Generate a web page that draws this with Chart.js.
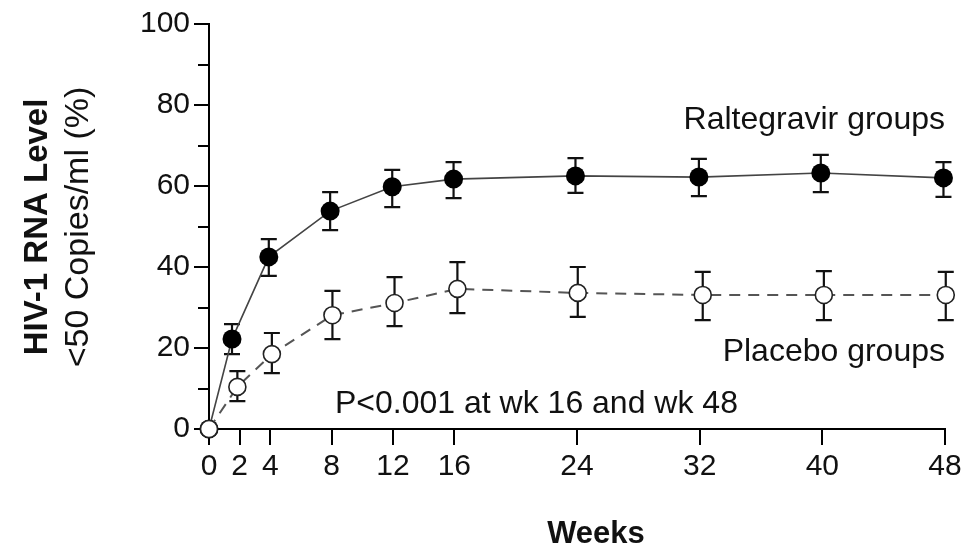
<!DOCTYPE html>
<html><head><meta charset="utf-8">
<script src="https://cdn.jsdelivr.net/npm/chart.js@4.4.0/dist/chart.umd.min.js"></script>
<style>html,body{margin:0;padding:0;background:#fff}#wrap{width:966px;height:547px;position:relative}</style>
</head><body><div id="wrap"><canvas id="c" width="966" height="547"></canvas></div>
<script>
// ---- data ----
const weekTicks = [0, 2, 4, 8, 12, 16, 24, 32, 40, 48];
const raltWeeks = [0, 1.5, 3.9, 7.9, 11.95, 15.95, 23.9, 31.95, 39.9, 47.9];
const raltValues = [0, 22.2, 42.5, 53.8, 59.8, 61.7, 62.5, 62.2, 63.2, 62.0];
const raltUpper = [null, 25.9, 46.9, 58.5, 64.0, 65.9, 66.9, 66.7, 67.7, 65.9];
const raltLower = [null, 18.5, 37.8, 49.1, 54.8, 57.0, 58.3, 57.5, 58.5, 57.3];
const placeboWeeks = [0, 1.85, 4.1, 8.05, 12.1, 16.2, 24.05, 32.2, 40.1, 48.05];
const placeboValues = [0, 10.4, 18.5, 28.1, 31.1, 34.6, 33.6, 33.1, 33.1, 33.1];
const placeboUpper = [null, 14.3, 23.7, 34.1, 37.5, 41.2, 40.0, 38.8, 39.0, 38.8];
const placeboLower = [null, 6.9, 13.8, 22.2, 25.4, 28.6, 27.7, 26.9, 26.9, 26.9];
const yTickValues = [0, 20, 40, 60, 80, 100];
const yMinorTicks = [10, 30, 50, 70, 90];

const FONT = "'Liberation Sans', Arial, sans-serif";
const TXT = '#111';

const toPts = (xs, ys) => xs.map((x, i) => ({x: x, y: ys[i]}));

const errorBars = {
  id: 'errorBars',
  beforeDatasetsDraw(chart) {
    const ctx = chart.ctx, xs = chart.scales.x, ys = chart.scales.y;
    chart.data.datasets.forEach(ds => {
      ctx.save();
      ctx.strokeStyle = '#111';
      ctx.lineWidth = 2.2;
      ds.data.forEach((p, i) => {
        const up = ds.errUpper[i], lo = ds.errLower[i];
        if (up == null || lo == null) return;
        const px = xs.getPixelForValue(p.x);
        const pu = ys.getPixelForValue(up), pl = ys.getPixelForValue(lo);
        ctx.beginPath();
        ctx.moveTo(px, pu); ctx.lineTo(px, pl);
        ctx.moveTo(px - 8, pu); ctx.lineTo(px + 8, pu);
        ctx.moveTo(px - 8, pl); ctx.lineTo(px + 8, pl);
        ctx.stroke();
      });
      ctx.restore();
    });
  }
};

const labelsPlugin = {
  id: 'labelsPlugin',
  afterDraw(chart) {
    const ctx = chart.ctx, xs = chart.scales.x, ys = chart.scales.y;
    ctx.save();
    // minor y ticks (shorter)
    ctx.strokeStyle = '#000';
    ctx.lineWidth = 2;
    ctx.beginPath();
    yMinorTicks.forEach(v => {
      const py = Math.round(ys.getPixelForValue(v));
      ctx.moveTo(xs.left - 11, py); ctx.lineTo(xs.left, py);
    });
    ctx.stroke();
    ctx.fillStyle = TXT;
    // annotations
    ctx.font = "32px " + FONT;
    ctx.textBaseline = 'alphabetic';
    ctx.textAlign = 'right';
    ctx.fillText('Raltegravir groups', xs.getPixelForValue(48), 129);
    ctx.fillText('Placebo groups', xs.getPixelForValue(48), 361);
    ctx.textAlign = 'left';
    ctx.fillText('P<0.001 at wk 16 and wk 48', 335, 413);
    // x title
    ctx.font = "bold 31px " + FONT;
    ctx.textAlign = 'center';
    ctx.fillText('Weeks', 596, 543);
    // y title
    ctx.translate(0, 227);
    ctx.rotate(-Math.PI / 2);
    ctx.font = "bold 33px " + FONT;
    ctx.fillText('HIV-1 RNA Level', 0, 47);
    ctx.font = "34px " + FONT;
    ctx.fillText('<50 Copies/ml (%)', 0, 88);
    ctx.restore();
  }
};

new Chart(document.getElementById('c'), {
  type: 'line',
  data: {
    datasets: [
      {
        label: 'Placebo groups',
        data: toPts(placeboWeeks, placeboValues),
        errUpper: placeboUpper, errLower: placeboLower,
        borderColor: '#555', borderWidth: 2, borderDash: [11, 8],
        pointRadius: 8.5, pointBackgroundColor: '#fff', pointBorderColor: '#222', pointBorderWidth: 1.6,
        tension: 0, clip: false
      },
      {
        label: 'Raltegravir groups',
        data: toPts(raltWeeks, raltValues),
        errUpper: raltUpper, errLower: raltLower,
        borderColor: '#444', borderWidth: 1.6,
        pointRadius: 9.5, pointBackgroundColor: '#000', pointBorderColor: '#000', pointBorderWidth: 0,
        tension: 0, clip: false
      }
    ]
  },
  options: {
    responsive: false, animation: false, devicePixelRatio: 1,
    layout: {padding: {left: 0, right: 21, top: 24, bottom: 0}},
    plugins: {legend: {display: false}, tooltip: {enabled: false}},
    scales: {
      x: {
        type: 'linear', min: 0, max: 48,
        afterBuildTicks: s => { s.ticks = weekTicks.map(v => ({value: v})); },
        afterFit: s => { s.height = 118; },
        grid: {drawOnChartArea: false, drawTicks: true, tickLength: 16, color: '#000', lineWidth: 2},
        border: {display: true, color: '#000', width: 2},
        ticks: {font: {family: FONT, size: 30}, color: TXT, padding: 4, maxRotation: 0, autoSkip: false}
      },
      y: {
        type: 'linear', min: 0, max: 100,
        afterBuildTicks: s => { s.ticks = yTickValues.map(v => ({value: v})); },
        afterFit: s => { s.width = 209; },
        grid: {drawOnChartArea: false, drawTicks: true, tickLength: 15, color: '#000', lineWidth: 2},
        border: {display: true, color: '#000', width: 2},
        ticks: {font: {family: FONT, size: 30}, color: TXT, padding: 4}
      }
    }
  },
  plugins: [errorBars, labelsPlugin]
});
</script></body></html>
